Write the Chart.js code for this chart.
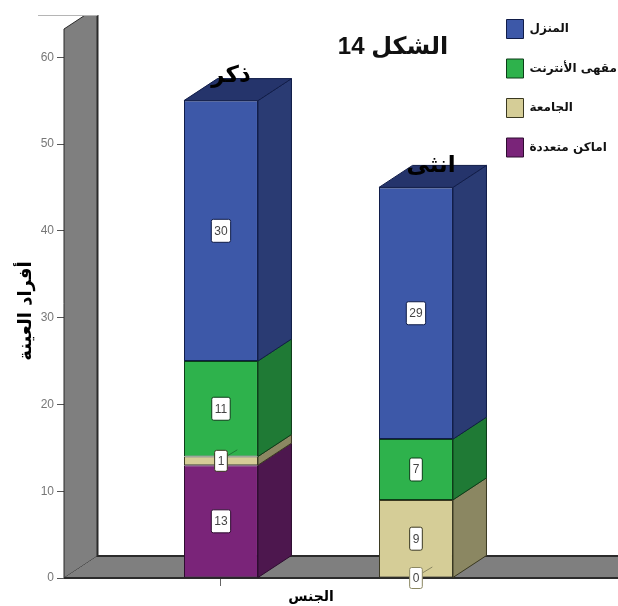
<!DOCTYPE html>
<html lang="ar">
<head>
<meta charset="utf-8">
<title>الشكل 14</title>
<script src="https://cdn.jsdelivr.net/npm/chart.js@4"></script>
<style>
    html, body { margin: 0; padding: 0; background: #fff; }
    #wrap { width: 618px; height: 606px; }
</style>
</head>
<body>
<div id="wrap"><canvas id="genderChart" width="618" height="606"></canvas></div>
<script>
const categories = ["ذكر", "انثى"];
const categoryPositions = [1, 2];
const homeValues = [30, 29];
const cafeValues = [11, 7];
const universityValues = [1, 9];
const multipleValues = [13, 0];
const yTicks = [0, 10, 20, 30, 40, 50, 60];

const ARABIC_FONT = '"DejaVu Sans", "Liberation Sans", sans-serif';
const DEPTH_X = 33.5;
const DEPTH_Y = -22;
const WALL_GRAY = "#7f7f7f";

function makeSeries(label, values, front, side, top, edge) {
    return {
        label: label,
        data: values.map((v, i) => ({ x: categoryPositions[i], y: v })),
        backgroundColor: front,
        borderColor: edge,
        borderWidth: 1,
        borderSkipped: false,
        inflateAmount: 0,
        barThickness: 74,
        sideColor: side,
        topColor: top
    };
}

// stacked from the floor up, the legend shows them reversed
const datasets = [
    makeSeries("اماكن متعددة", multipleValues, "#7a2479", "#4d174e", "#4d174e", "#2e0c30"),
    makeSeries("الجامعة", universityValues, "#d5cd97", "#8b8762", "#8b8762", "#3a3820"),
    makeSeries("مقهى الأنترنت", cafeValues, "#2eb24c", "#1f7a35", "#1f7a35", "#0c3d18"),
    makeSeries("المنزل", homeValues, "#3d58a8", "#2a3b73", "#25346b", "#101c48")
];

function polygon(ctx, points, fill, stroke, width) {
    ctx.beginPath();
    points.forEach((p, i) => i ? ctx.lineTo(p[0], p[1]) : ctx.moveTo(p[0], p[1]));
    ctx.closePath();
    if (fill) {
        ctx.fillStyle = fill;
        ctx.fill();
    }
    if (stroke) {
        ctx.strokeStyle = stroke;
        ctx.lineWidth = width || 1;
        ctx.stroke();
    }
}

const box3d = {
    id: "box3d",
    afterLayout(chart) {
        // legend sits over the plot, top right of the picture
        const legend = chart.legend;
        legend.left = 486;
        legend.right = 618;
        legend.top = -1;
        legend.bottom = 300;
        legend.adjustHitBoxes();
    },
    beforeDatasetsDraw(chart) {
        const ctx = chart.ctx;
        const area = chart.chartArea;
        const backX = area.left + DEPTH_X;
        const backY = area.bottom + DEPTH_Y;

        ctx.save();
        ctx.beginPath();
        ctx.rect(0, 15, chart.width, chart.height);
        ctx.clip();
        polygon(ctx, [
            [area.left, area.bottom], [area.left, area.top],
            [backX, area.top + DEPTH_Y], [backX, backY]
        ], WALL_GRAY, "#2b2b2b", 1);
        polygon(ctx, [
            [area.left, area.bottom], [backX, backY],
            [area.right + DEPTH_X, backY], [area.right, area.bottom]
        ], WALL_GRAY, null);
        ctx.strokeStyle = "#2b2b2b";
        ctx.lineWidth = 2;
        ctx.beginPath();
        ctx.moveTo(backX, 15);
        ctx.lineTo(backX, backY);
        ctx.lineTo(area.right, backY);
        ctx.stroke();
        ctx.beginPath();
        ctx.moveTo(area.left, area.bottom);
        ctx.lineTo(area.right, area.bottom);
        ctx.stroke();
        ctx.restore();

        // the cut top edge of the photographed chart
        ctx.strokeStyle = "#b5b5b5";
        ctx.lineWidth = 1;
        ctx.beginPath();
        ctx.moveTo(38, 15.5);
        ctx.lineTo(backX, 15.5);
        ctx.stroke();

        // side and top faces, from the bottom segment up
        chart.data.datasets.forEach((ds, d) => {
            chart.getDatasetMeta(d).data.forEach((bar, i) => {
                if (ds.data[i].y === 0) return;
                const props = bar.getProps(["x", "y", "base", "width"], true);
                const right = props.x + props.width / 2;
                const left = props.x - props.width / 2;
                polygon(ctx, [
                    [right, props.base], [right, props.y],
                    [right + DEPTH_X, props.y + DEPTH_Y], [right + DEPTH_X, props.base + DEPTH_Y]
                ], ds.sideColor, ds.borderColor, 1);
                const isTop = chart.data.datasets.slice(d + 1).every(o => o.data[i].y === 0);
                if (isTop) {
                    polygon(ctx, [
                        [left, props.y], [right, props.y],
                        [right + DEPTH_X, props.y + DEPTH_Y], [left + DEPTH_X, props.y + DEPTH_Y]
                    ], ds.topColor, ds.borderColor, 1);
                }
            });
        });
    },
    afterDatasetsDraw(chart) {
        const ctx = chart.ctx;
        const sets = chart.data.datasets;

        // value boxes
        sets.forEach((ds, d) => {
            chart.getDatasetMeta(d).data.forEach((bar, i) => {
                const value = ds.data[i].y;
                const props = bar.getProps(["x", "y", "base"], true);
                const cy = (props.y + props.base) / 2;
                ctx.font = "12px " + '"Liberation Sans", sans-serif';
                const w = ctx.measureText(String(value)).width + 6;
                const h = value > 1 ? 23 : 21;
                const edge = value === 0 ? sets[d + 1].sideColor : ds.borderColor;

                if (value <= 1) {
                    ctx.strokeStyle = value === 0 ? "#8b8762" : "#1f7a35";
                    ctx.lineWidth = 1;
                    ctx.beginPath();
                    ctx.moveTo(props.x + w / 2, cy - 5);
                    ctx.lineTo(props.x + w / 2 + 10, cy - 11);
                    ctx.stroke();
                }
                ctx.beginPath();
                ctx.roundRect(props.x - w / 2, cy - h / 2, w, h, 2);
                ctx.fillStyle = "#fff";
                ctx.fill();
                ctx.strokeStyle = edge;
                ctx.lineWidth = 1;
                ctx.stroke();
                ctx.fillStyle = "#444";
                ctx.textAlign = "center";
                ctx.textBaseline = "middle";
                ctx.fillText(String(value), props.x, cy + 0.5);
            });
        });

        // category names, printed across the tops of the bars
        const xScale = chart.scales.x;
        const yScale = chart.scales.y;
        const labelShift = [[10, -25], [15, -21]];
        categories.forEach((name, i) => {
            const total = sets.reduce((sum, ds) => sum + ds.data[i].y, 0);
            ctx.font = "bold 23px " + ARABIC_FONT;
            ctx.fillStyle = "#000";
            ctx.textAlign = "center";
            ctx.textBaseline = "middle";
            ctx.fillText(name, xScale.getPixelForValue(categoryPositions[i]) + labelShift[i][0],
                yScale.getPixelForValue(total) + labelShift[i][1]);
        });

        // figure title
        ctx.font = "bold 24px " + '"Liberation Sans", ' + ARABIC_FONT;
        ctx.fillStyle = "#111";
        ctx.direction = "rtl";
        ctx.fillText("الشكل 14", 393, 47);
        ctx.direction = "ltr";

        // axis titles
        ctx.font = "bold 14px " + ARABIC_FONT;
        ctx.fillStyle = "#000";
        ctx.fillText("الجنس", 311, 597);
        ctx.font = "bold 18px " + ARABIC_FONT;
        ctx.save();
        ctx.translate(26, 311);
        ctx.rotate(-Math.PI / 2);
        ctx.fillText("أفراد العينة", 0, 0);
        ctx.restore();
    }
};

new Chart(document.getElementById("genderChart"), {
    type: "bar",
    data: { datasets: datasets },
    plugins: [box3d],
    options: {
        responsive: false,
        animation: false,
        layout: { padding: { top: 29, left: 0, right: 0, bottom: 0 } },
        plugins: {
            tooltip: { enabled: false },
            legend: {
                position: "chartArea",
                align: "start",
                reverse: true,
                labels: {
                    boxWidth: 17,
                    boxHeight: 19,
                    padding: 20.5,
                    color: "#111",
                    font: { family: ARABIC_FONT, size: 12, weight: "bold" }
                }
            }
        },
        scales: {
            x: {
                type: "linear",
                stacked: true,
                offset: false,
                min: 0.195,
                max: 3.036,
                afterFit(scale) { scale.height = 28; },
                afterBuildTicks(scale) { scale.ticks = categoryPositions.map(v => ({ value: v })); },
                border: { display: false },
                grid: { drawOnChartArea: false, tickLength: 8, tickColor: "#666", offset: false },
                ticks: { display: false }
            },
            y: {
                stacked: true,
                min: 0,
                max: 63.25,
                afterFit(scale) { scale.width = 64; },
                afterBuildTicks(scale) { scale.ticks = yTicks.map(v => ({ value: v })); },
                border: { display: false },
                grid: { drawOnChartArea: false, tickLength: 7, tickColor: "#555" },
                ticks: {
                    color: "#777",
                    padding: 3,
                    font: { family: '"Liberation Sans", sans-serif', size: 12 }
                }
            }
        }
    }
});
</script>
</body>
</html>
